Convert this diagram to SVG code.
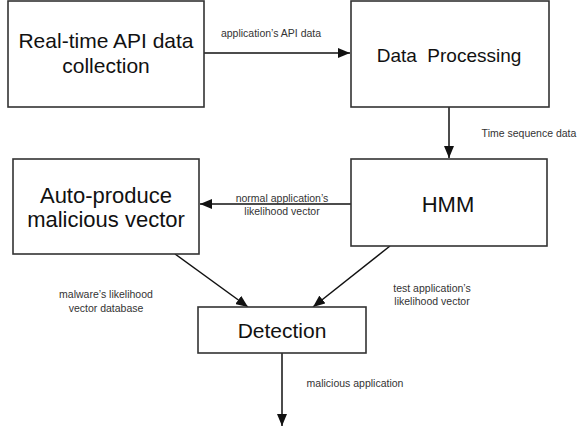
<svg xmlns="http://www.w3.org/2000/svg" width="578" height="427" viewBox="0 0 578 427">
<style>
.box{fill:#fff;stroke:#333;stroke-width:1.6}
.t{font-family:"Liberation Sans",Arial,sans-serif;fill:#111;text-anchor:middle}
.s{font-family:"Liberation Sans",Arial,sans-serif;fill:#333;font-size:10.5px;text-anchor:middle}
.c{stroke:#111;stroke-width:1.5;fill:none;marker-end:url(#ah)}
</style>
<defs>
<marker id="ah" viewBox="0 0 12 10" refX="12" refY="5" markerWidth="12" markerHeight="10" markerUnits="userSpaceOnUse" orient="auto">
<path d="M0,0 L12,5 L0,10 Z" fill="#111"/>
</marker>
</defs>
<rect width="578" height="427" fill="#fff"/>
<g id="connectors">
<line class="c" x1="204" y1="53" x2="350" y2="53"/>
<line class="c" x1="449" y1="107" x2="449" y2="158"/>
<line class="c" x1="351" y1="204" x2="200" y2="204"/>
<line class="c" x1="175" y1="254" x2="248" y2="307"/>
<line class="c" x1="390" y1="246" x2="313" y2="307"/>
<line class="c" x1="282" y1="353" x2="282" y2="426"/>
<text class="s" x="271" y="37">application’s API data</text>
<text class="s" x="529" y="137">Time sequence data</text>
<text class="s" x="282" y="202">normal application’s</text>
<text class="s" x="282" y="215">likelihood vector</text>
<text class="s" x="106" y="298">malware’s likelihood</text>
<text class="s" x="106" y="312">vector database</text>
<text class="s" x="432" y="292">test application’s</text>
<text class="s" x="432" y="305">likelihood vector</text>
<text class="s" x="355" y="387">malicious application</text>
</g>
<g id="n1">
<rect class="box" x="8" y="1" width="196" height="106"/>
<text class="t" x="106" y="48" font-size="21">Real-time API data</text>
<text class="t" x="106" y="73" font-size="21">collection</text>
</g>
<g id="n2">
<rect class="box" x="351" y="1" width="198" height="106"/>
<text class="t" x="449" y="62" font-size="19" xml:space="preserve">Data  Processing</text>
</g>
<g id="n3">
<rect class="box" x="351" y="159" width="196" height="87"/>
<text class="t" x="448" y="212" font-size="22">HMM</text>
</g>
<g id="n4">
<rect class="box" x="13" y="159" width="186" height="95"/>
<text class="t" x="106" y="203" font-size="22">Auto-produce</text>
<text class="t" x="106" y="227" font-size="22">malicious vector</text>
</g>
<g id="n5">
<rect class="box" x="198" y="307" width="168" height="46"/>
<text class="t" x="282" y="338" font-size="21">Detection</text>
</g>
</svg>
